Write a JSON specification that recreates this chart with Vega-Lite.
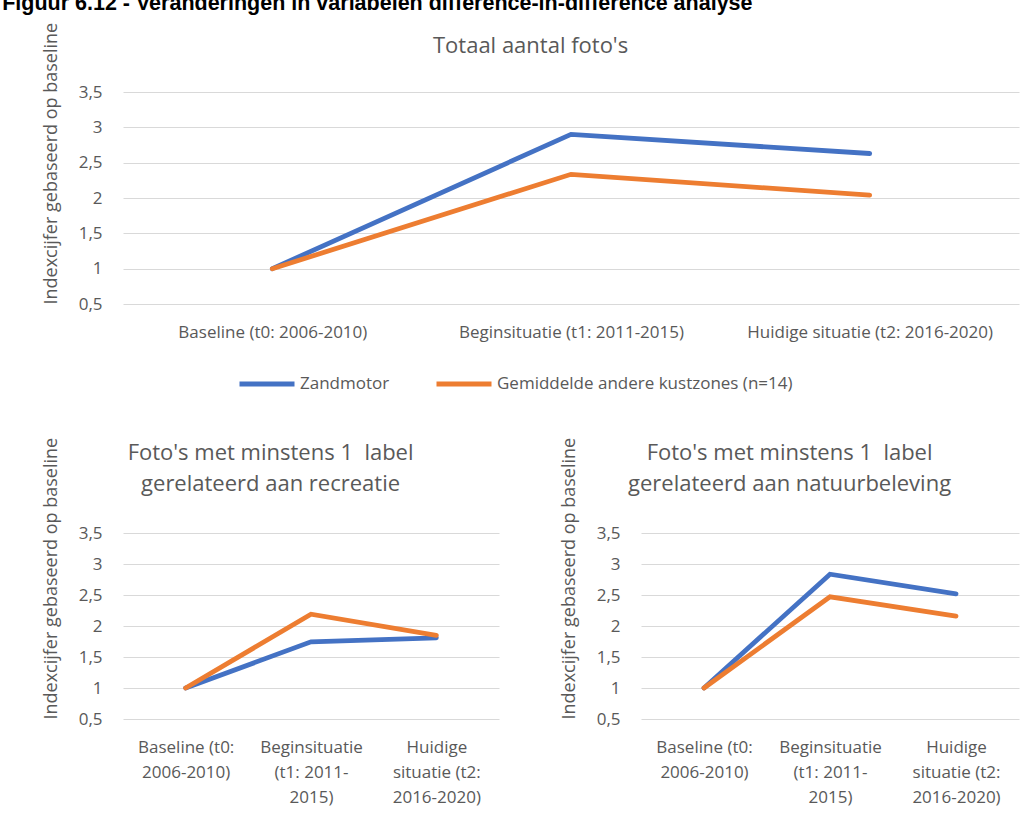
{
  "$schema": "https://vega.github.io/schema/vega-lite/v6.json",
  "padding": {"left": 2, "top": -8, "right": 10, "bottom": 8},
  "background": "white",
  "title": {"text": "Figuur 6.12 - Veranderingen in variabelen difference-in-difference analyse", "anchor": "start", "frame": "bounds", "dx": -40, "offset": 8, "fontSize": 21.5, "font": "Liberation Sans", "fontWeight": "bold", "color": "#000000"},
  "config": {
    "font": "Open Sans",
    "view": {"stroke": null},
    "axis": {"labelColor": "#595959", "titleColor": "#595959", "titleFontWeight": "normal", "gridColor": "#d9d9d9", "gridWidth": 1, "labelLimit": 0},
    "title": {"color": "#595959", "fontWeight": "normal"},
    "legend": {"labelColor": "#595959", "labelLimit": 0}
  },
  "data": {"values": [
    {"chart": "totaal", "period": "Baseline (t0: 2006-2010)", "series": "Zandmotor", "value": 1},
    {"chart": "totaal", "period": "Beginsituatie (t1: 2011-2015)", "series": "Zandmotor", "value": 2.9},
    {"chart": "totaal", "period": "Huidige situatie (t2: 2016-2020)", "series": "Zandmotor", "value": 2.63},
    {"chart": "totaal", "period": "Baseline (t0: 2006-2010)", "series": "Gemiddelde andere kustzones (n=14)", "value": 1},
    {"chart": "totaal", "period": "Beginsituatie (t1: 2011-2015)", "series": "Gemiddelde andere kustzones (n=14)", "value": 2.335},
    {"chart": "totaal", "period": "Huidige situatie (t2: 2016-2020)", "series": "Gemiddelde andere kustzones (n=14)", "value": 2.04},
    {"chart": "recreatie", "period": "Baseline (t0: 2006-2010)", "series": "Zandmotor", "value": 1},
    {"chart": "recreatie", "period": "Beginsituatie (t1: 2011-2015)", "series": "Zandmotor", "value": 1.745},
    {"chart": "recreatie", "period": "Huidige situatie (t2: 2016-2020)", "series": "Zandmotor", "value": 1.81},
    {"chart": "recreatie", "period": "Baseline (t0: 2006-2010)", "series": "Gemiddelde andere kustzones (n=14)", "value": 1},
    {"chart": "recreatie", "period": "Beginsituatie (t1: 2011-2015)", "series": "Gemiddelde andere kustzones (n=14)", "value": 2.19},
    {"chart": "recreatie", "period": "Huidige situatie (t2: 2016-2020)", "series": "Gemiddelde andere kustzones (n=14)", "value": 1.85},
    {"chart": "natuur", "period": "Baseline (t0: 2006-2010)", "series": "Zandmotor", "value": 1},
    {"chart": "natuur", "period": "Beginsituatie (t1: 2011-2015)", "series": "Zandmotor", "value": 2.835},
    {"chart": "natuur", "period": "Huidige situatie (t2: 2016-2020)", "series": "Zandmotor", "value": 2.52},
    {"chart": "natuur", "period": "Baseline (t0: 2006-2010)", "series": "Gemiddelde andere kustzones (n=14)", "value": 1},
    {"chart": "natuur", "period": "Beginsituatie (t1: 2011-2015)", "series": "Gemiddelde andere kustzones (n=14)", "value": 2.47},
    {"chart": "natuur", "period": "Huidige situatie (t2: 2016-2020)", "series": "Gemiddelde andere kustzones (n=14)", "value": 2.16}
  ]},
  "resolve": {"scale": {"color": "independent"}, "legend": {"color": "independent"}},
  "spacing": 43,
  "vconcat": [
    {
      "width": 896,
      "height": 212,
      "title": {"text": "Totaal aantal foto's", "frame": "bounds", "offset": -36, "fontSize": 22},
      "transform": [{"filter": "datum.chart == 'totaal'"}],
      "mark": {"type": "line", "strokeWidth": 4.8, "strokeCap": "round"},
      "encoding": {
        "x": {"field": "period", "type": "ordinal", "sort": ["Baseline (t0: 2006-2010)", "Beginsituatie (t1: 2011-2015)", "Huidige situatie (t2: 2016-2020)"], "scale": {"type": "point", "padding": 0.5}, "axis": {"title": null, "labelAngle": 0, "ticks": false, "domain": false, "grid": false, "labelPadding": 20, "labelFontSize": 17}},
        "y": {"field": "value", "type": "quantitative", "scale": {"domain": [0.5, 3.5], "nice": false, "zero": false}, "axis": {"values": [0.5, 1, 1.5, 2, 2.5, 3, 3.5], "title": "Indexcijfer gebaseerd op baseline", "titleAnchor": "start", "titleFontSize": 18, "titlePadding": 18, "labelFontSize": 17, "labelPadding": 21, "format": "~g", "labelExpr": "replace(datum.label, '.', ',')", "ticks": false, "domain": false}},
        "color": {"field": "series", "type": "nominal", "sort": ["Zandmotor", "Gemiddelde andere kustzones (n=14)"], "scale": {"domain": ["Zandmotor", "Gemiddelde andere kustzones (n=14)"], "range": ["#4472C4", "#ED7D31"]}, "legend": {"orient": "none", "legendX": 114, "legendY": 262, "direction": "horizontal", "title": null, "symbolType": "stroke", "symbolSize": 3025, "symbolStrokeWidth": 5, "labelFontSize": 17, "labelOffset": 3, "columnPadding": 36, "padding": 0}}
      }
    },
    {
      "spacing": 61,
      "hconcat": [
        {
          "width": 376,
          "height": 186,
          "title": {"text": ["Foto's met minstens 1\u00a0 label", "gerelateerd aan recreatie"], "frame": "bounds", "offset": -59, "fontSize": 22, "lineHeight": 31},
          "transform": [{"filter": "datum.chart == 'recreatie'"}],
          "mark": {"type": "line", "strokeWidth": 4.8, "strokeCap": "round"},
          "encoding": {
            "x": {"field": "period", "type": "ordinal", "sort": ["Baseline (t0: 2006-2010)", "Beginsituatie (t1: 2011-2015)", "Huidige situatie (t2: 2016-2020)"], "scale": {"type": "point", "padding": 0.5}, "axis": {"title": null, "labelAngle": 0, "ticks": false, "domain": false, "grid": false, "labelPadding": 20, "labelFontSize": 17, "labelLineHeight": 25, "labelExpr": "datum.label == 'Baseline (t0: 2006-2010)' ? ['Baseline (t0:', '2006-2010)'] : datum.label == 'Beginsituatie (t1: 2011-2015)' ? ['Beginsituatie', '(t1: 2011-', '2015)'] : ['Huidige', 'situatie (t2:', '2016-2020)']"}},
            "y": {"field": "value", "type": "quantitative", "scale": {"domain": [0.5, 3.5], "nice": false, "zero": false}, "axis": {"values": [0.5, 1, 1.5, 2, 2.5, 3, 3.5], "title": "Indexcijfer gebaseerd op baseline", "titleAnchor": "start", "titleFontSize": 18, "titlePadding": 18, "labelFontSize": 17, "labelPadding": 21, "format": "~g", "labelExpr": "replace(datum.label, '.', ',')", "ticks": false, "domain": false}},
            "color": {"field": "series", "type": "nominal", "scale": {"domain": ["Zandmotor", "Gemiddelde andere kustzones (n=14)"], "range": ["#4472C4", "#ED7D31"]}, "legend": null}
          }
        },
        {
          "width": 378,
          "height": 186,
          "title": {"text": ["Foto's met minstens 1\u00a0 label", "gerelateerd aan natuurbeleving"], "frame": "bounds", "offset": -59, "fontSize": 22, "lineHeight": 31},
          "transform": [{"filter": "datum.chart == 'natuur'"}],
          "mark": {"type": "line", "strokeWidth": 4.8, "strokeCap": "round"},
          "encoding": {
            "x": {"field": "period", "type": "ordinal", "sort": ["Baseline (t0: 2006-2010)", "Beginsituatie (t1: 2011-2015)", "Huidige situatie (t2: 2016-2020)"], "scale": {"type": "point", "padding": 0.5}, "axis": {"title": null, "labelAngle": 0, "ticks": false, "domain": false, "grid": false, "labelPadding": 20, "labelFontSize": 17, "labelLineHeight": 25, "labelExpr": "datum.label == 'Baseline (t0: 2006-2010)' ? ['Baseline (t0:', '2006-2010)'] : datum.label == 'Beginsituatie (t1: 2011-2015)' ? ['Beginsituatie', '(t1: 2011-', '2015)'] : ['Huidige', 'situatie (t2:', '2016-2020)']"}},
            "y": {"field": "value", "type": "quantitative", "scale": {"domain": [0.5, 3.5], "nice": false, "zero": false}, "axis": {"values": [0.5, 1, 1.5, 2, 2.5, 3, 3.5], "title": "Indexcijfer gebaseerd op baseline", "titleAnchor": "start", "titleFontSize": 18, "titlePadding": 18, "labelFontSize": 17, "labelPadding": 21, "format": "~g", "labelExpr": "replace(datum.label, '.', ',')", "ticks": false, "domain": false}},
            "color": {"field": "series", "type": "nominal", "scale": {"domain": ["Zandmotor", "Gemiddelde andere kustzones (n=14)"], "range": ["#4472C4", "#ED7D31"]}, "legend": null}
          }
        }
      ]
    }
  ]
}
